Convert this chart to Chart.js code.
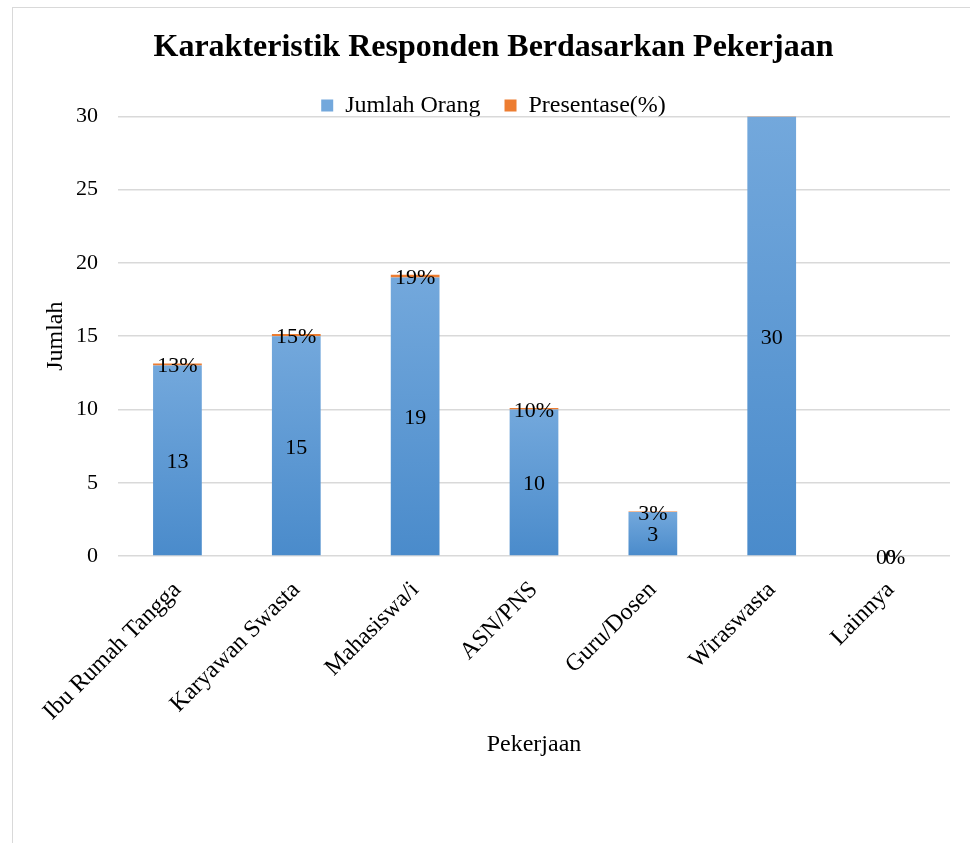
<!DOCTYPE html>
<html>
<head>
<meta charset="utf-8">
<script src="https://cdn.jsdelivr.net/npm/chart.js@4.4.0/dist/chart.umd.min.js"></script>
<style>
  html, body { margin: 0; padding: 0; background: #fff; overflow: hidden; }
  #frame { position: absolute; left: 12px; top: 7px; width: 1000px; height: 1000px; border: 1px solid #d9d9d9; }
  #chart { position: absolute; left: 0; top: 0; }
</style>
</head>
<body>
<div id="frame"></div>
<canvas id="chart" width="970" height="843"></canvas>
<script>
const categories = ["Ibu Rumah Tangga", "Karyawan Swasta", "Mahasiswa/i", "ASN/PNS", "Guru/Dosen", "Wiraswasta", "Lainnya"];
const jumlahOrang = [13, 15, 19, 10, 3, 30, 0];
const presentase = [0.13, 0.15, 0.19, 0.10, 0.03, 0.30, 0];

const serif = "'Liberation Serif', 'Times New Roman', serif";

function blueGradient(ctx) {
    const chart = ctx.chart;
    if (!chart.chartArea || ctx.type !== "data") return "#5b9bd5";
    const y = chart.scales.y;
    const top = y.getPixelForValue(ctx.parsed.y);
    const bottom = y.getPixelForValue(0);
    if (!isFinite(top) || top === bottom) return "#5b9bd5";
    const g = chart.ctx.createLinearGradient(0, top, 0, bottom);
    g.addColorStop(0, "#73a8dc");
    g.addColorStop(1, "#4a8bcb");
    return g;
}

// shrink the legend box so the plot sits right under the legend row
const legendHeight = {
    id: "legendHeight",
    afterInit(chart) {
        const lg = chart.legend;
        if (!lg) return;
        const fit = lg.fit;
        lg.fit = function () {
            fit.call(this);
            this.height = 47;
        };
    }
};

// draws the value labels on the bars
const barLabels = {
    id: "barLabels",
    afterDatasetsDraw(chart) {
        const ctx = chart.ctx;
        const area = chart.chartArea;
        ctx.save();
        ctx.font = "22px " + serif;
        ctx.fillStyle = "#000";
        ctx.textAlign = "center";
        ctx.textBaseline = "middle";
        chart.data.datasets.forEach((ds, di) => {
            chart.getDatasetMeta(di).data.forEach((bar, i) => {
                const cy = (bar.y + bar.base) / 2;
                if (cy < area.top - 1) return;
                const txt = di === 0 ? String(ds.data[i]) : Math.round(ds.data[i] * 100) + "%";
                ctx.fillText(txt, bar.x, cy + 2);
            });
        });
        ctx.restore();
    }
};

new Chart(document.getElementById("chart"), {
    type: "bar",
    data: {
        labels: categories,
        datasets: [
            {
                label: "Jumlah Orang",
                data: jumlahOrang,
                backgroundColor: blueGradient,
                categoryPercentage: 1,
                barPercentage: 0.41,
                clip: 0
            },
            {
                label: "Presentase(%)",
                data: presentase,
                backgroundColor: "#ed7d31",
                categoryPercentage: 1,
                barPercentage: 0.41,
                clip: 0
            }
        ]
    },
    options: {
        responsive: false,
        animation: false,
        layout: { padding: { left: 37, right: 20, top: 0, bottom: 84 } },
        plugins: {
            title: {
                display: true,
                text: "Karakteristik Responden Berdasarkan Pekerjaan",
                color: "#000",
                font: { family: serif, size: 32, weight: "bold" },
                padding: { top: 29, bottom: 2 }
            },
            legend: {
                position: "top",
                labels: {
                    color: "#000",
                    font: { family: serif, size: 24 },
                    boxWidth: 12,
                    boxHeight: 12,
                    padding: 24
                }
            },
            tooltip: { enabled: false }
        },
        scales: {
            x: {
                stacked: true,
                grid: { display: false },
                border: { display: false },
                ticks: {
                    color: "#000",
                    font: { family: serif, size: 24 },
                    maxRotation: 45,
                    minRotation: 45,
                    padding: 12
                },
                title: {
                    display: true,
                    text: "Pekerjaan",
                    color: "#000",
                    font: { family: serif, size: 24 },
                    padding: { top: 0, bottom: 0 }
                },
                afterFit(s) {
                    s.paddingLeft = 0;
                    s.paddingRight = 0;
                    s.height = 203;
                }
            },
            y: {
                stacked: true,
                min: 0,
                max: 30,
                ticks: {
                    stepSize: 5,
                    color: "#000",
                    font: { family: serif, size: 22 },
                    padding: 20
                },
                grid: { color: "#d9d9d9", lineWidth: 1.5, drawTicks: false },
                border: { display: false },
                title: {
                    display: true,
                    text: "Jumlah",
                    color: "#000",
                    font: { family: serif, size: 24 },
                    padding: { top: 4, bottom: 4 }
                },
                afterFit(s) {
                    s.width = 81;
                }
            }
        }
    },
    plugins: [legendHeight, barLabels]
});
</script>
</body>
</html>
